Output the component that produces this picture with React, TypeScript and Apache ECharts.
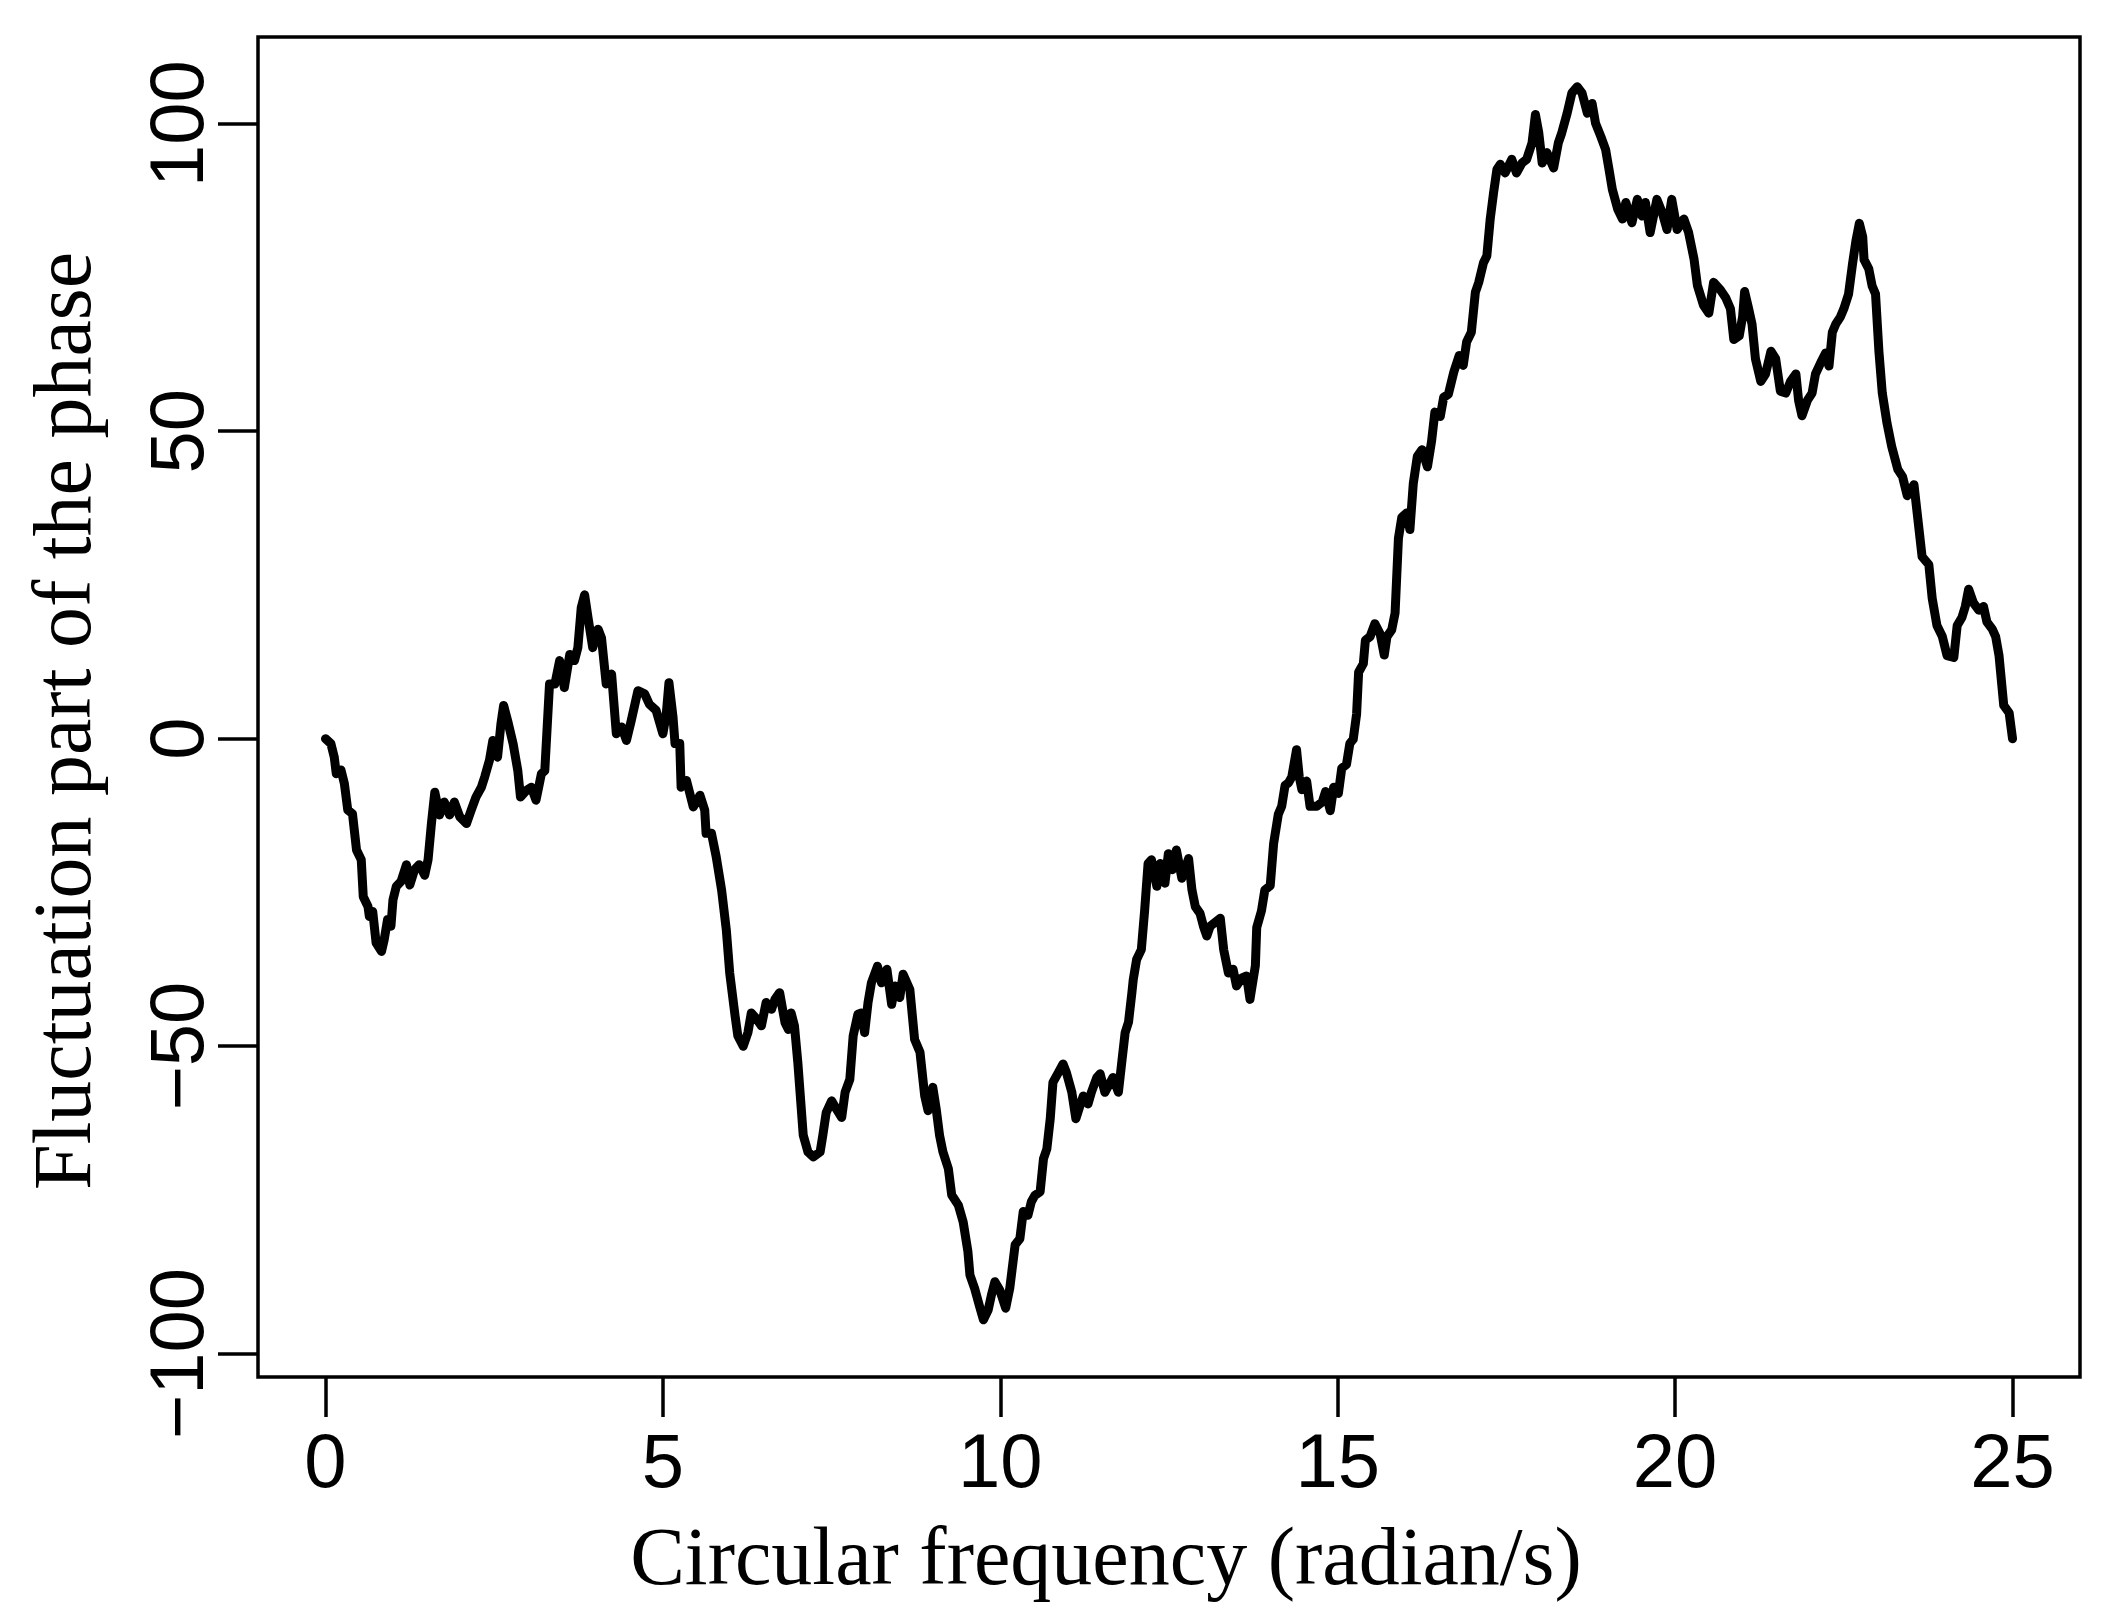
import React, { useEffect, useRef } from "react";
import * as echarts from "echarts";

// Circular frequency (radian/s)
const freq: number[] = [
  0, 0.08, 0.13, 0.16, 0.23, 0.28, 0.33, 0.4, 0.46, 0.53, 0.56, 0.63, 0.65, 0.7, 0.75, 0.83, 0.87, 0.92, 0.97, 1.0,
  1.05, 1.12, 1.2, 1.25, 1.32, 1.39, 1.47, 1.52, 1.57, 1.62, 1.69, 1.76, 1.84, 1.91, 1.99, 2.09, 2.16, 2.23, 2.31, 2.36,
  2.43, 2.48, 2.55, 2.6, 2.64, 2.7, 2.78, 2.85, 2.89, 2.98, 3.05, 3.12, 3.2,
  3.25, 3.32, 3.4, 3.47, 3.54, 3.62, 3.69, 3.74, 3.79, 3.84, 3.89, 3.96, 4.04, 4.09, 4.16, 4.24, 4.31, 4.39, 4.46, 4.53,
  4.63, 4.73, 4.8, 4.9, 5.0, 5.05, 5.09, 5.15, 5.18, 5.25, 5.27, 5.35, 5.45, 5.55, 5.62, 5.64, 5.72, 5.79, 5.87, 5.94,
  5.99, 6.07, 6.11, 6.19, 6.26, 6.31, 6.39, 6.46, 6.53, 6.61, 6.66, 6.73, 6.81, 6.86, 6.9,
  6.95, 7.0, 7.08, 7.15, 7.23, 7.33, 7.37, 7.42, 7.5, 7.57, 7.65, 7.7, 7.77, 7.82, 7.89, 7.94, 7.99, 8.04, 8.09, 8.18,
  8.24, 8.32, 8.39, 8.44, 8.51, 8.56, 8.66, 8.73, 8.81, 8.88, 8.93, 9.0, 9.05, 9.1, 9.15, 9.23, 9.28, 9.38, 9.45, 9.52,
  9.55, 9.62, 9.7, 9.75, 9.82, 9.87, 9.92, 9.99, 10.08, 10.14,
  10.22, 10.29, 10.34, 10.41, 10.46, 10.51, 10.59, 10.64, 10.69, 10.74, 10.78, 10.86, 10.93, 10.98, 11.06, 11.12, 11.18,
  11.23, 11.3, 11.35, 11.43, 11.48, 11.55, 11.63, 11.67, 11.75, 11.8, 11.85, 11.9, 11.95, 11.97, 12.02, 12.09, 12.14,
  12.19, 12.24, 12.32, 12.37, 12.44, 12.49, 12.55, 12.61, 12.69, 12.79, 12.84, 12.89, 12.96, 13.01, 13.06, 13.11, 13.26,
  13.31, 13.38, 13.45, 13.5, 13.58, 13.65, 13.7,
  13.78, 13.8, 13.87, 13.92, 14.0, 14.05, 14.12, 14.17, 14.22, 14.27, 14.32, 14.39, 14.43, 14.47, 14.54, 14.59, 14.69,
  14.77, 14.82, 14.89, 14.94, 15.01, 15.06, 15.13, 15.18, 15.23, 15.28, 15.31, 15.38, 15.41, 15.48, 15.55, 15.63, 15.69,
  15.73, 15.8, 15.85, 15.9, 15.95, 16.02, 16.07, 16.12, 16.18, 16.25, 16.33, 16.39, 16.44, 16.52, 16.57,
  16.64, 16.72, 16.8, 16.86, 16.91, 16.98, 17.04, 17.09, 17.16, 17.21, 17.26, 17.31, 17.36, 17.41, 17.48, 17.58, 17.65,
  17.73, 17.8, 17.88, 17.93, 17.98, 18.03, 18.1, 18.2, 18.27, 18.32, 18.4, 18.47, 18.55, 18.62, 18.7, 18.77, 18.82, 18.9,
  18.97, 19.02, 19.07, 19.15, 19.22, 19.27, 19.36, 19.44, 19.51, 19.56, 19.63, 19.73, 19.81, 19.88, 19.95, 20.03, 20.13,
  20.2, 20.28, 20.33,
  20.42, 20.5, 20.57, 20.67, 20.75, 20.82, 20.87, 20.95, 21.0, 21.03, 21.09, 21.14, 21.19, 21.27, 21.34, 21.42, 21.49,
  21.56, 21.64, 21.71, 21.79, 21.83, 21.88, 21.96, 22.03, 22.08, 22.16, 22.23, 22.28, 22.33, 22.38, 22.45, 22.5, 22.57,
  22.63, 22.68, 22.73, 22.78, 22.8, 22.87, 22.92, 22.97, 23.02, 23.07, 23.14, 23.21, 23.3, 23.37, 23.44, 23.54, 23.59,
  23.66, 23.76, 23.81, 23.88, 23.96, 24.03, 24.13, 24.18, 24.25, 24.3, 24.35, 24.42, 24.5, 24.57, 24.62, 24.7, 24.75,
  24.8, 24.87, 24.95, 25.0,
];

// Fluctuation part of the phase
const phase: number[] = [
  0, -0.8, -3, -5.7, -5.1, -7.3, -11.6, -12.2, -18.1, -19.7, -25.7, -27.3, -28.9, -28.1, -33.2, -34.6, -32.7, -29.4, -30.5, -26.2,
  -24.0, -23.2, -20.5, -23.8, -21.3, -20.5, -22.2, -19.7, -13.8, -8.7, -12.4, -10.3, -12.4, -10.3, -12.7, -13.8, -11.6, -9.5, -7.9, -6.2,
  -3.5, -0.3, -3.0, 2.4, 5.4, 2.9, -0.8, -5.2, -9.5, -8.4, -7.9, -10.0, -5.7,
  -5.2, 8.9, 8.9, 12.7, 8.3, 13.7, 12.7, 14.8, 21.3, 23.4, 19.7, 14.8, 17.8, 16.4, 8.9, 10.5, 0.8, 1.9, -0.3, 2.9,
  7.8, 7.3, 5.6, 4.6, 0.8, 4.0, 9.1, 3.5, -0.8, -0.8, -7.9, -6.8, -11.1, -9.2, -11.6, -15.4, -15.4, -19.2, -24.6, -31.1,
  -38.1, -45.1, -48.3, -50.0, -47.8, -44.6, -45.6, -46.7, -42.9, -44.0, -42.4, -41.3, -46.2, -47.3, -44.6,
  -46.7, -52.7, -64.5, -67.2, -68.0, -67.2, -64.5, -60.8, -58.9, -60.2, -61.6, -57.5, -55.4, -48.3, -44.8, -44.6, -47.8, -42.9, -39.7, -37.0,
  -39.7, -37.5, -43.2, -40.2, -42.1, -38.3, -40.8, -48.9, -51.0, -58.1, -60.5, -56.7, -60.2, -64.5, -67.2, -69.9, -74.2, -75.9, -78.6, -83.4,
  -87.2, -89.4, -92.6, -94.5, -92.9, -90.4, -88.3, -89.6, -92.6, -89.4,
  -82.3, -81.3, -76.9, -77.5, -75.3, -74.3, -73.7, -68.3, -66.7, -61.8, -55.9, -54.3, -52.9, -54.3, -57.5, -61.8, -59.7,
  -58.1, -59.4, -57.5, -55.1, -54.5, -57.5, -55.9, -55.1, -57.5, -52.6, -47.8, -46.1, -41.3, -39.2, -35.9, -34.3, -27.8,
  -20.3, -19.7, -24.0, -20.3, -23.5, -18.7, -21.3, -18.1, -22.7, -19.5, -24.6, -27.3, -28.4, -30.5, -32.1, -30.5, -29.2,
  -34.3, -38.1, -37.5, -40.2, -38.9, -38.6, -42.4,
  -36.9, -30.7, -28.0, -24.6, -23.9, -17.1, -12.3, -11.0, -7.6, -7.2, -6.2, -1.8, -6.2, -8.3, -6.9, -11.0, -11.0,
  -10.3, -8.6, -11.7, -7.9, -8.9, -4.8, -4.2, -0.8, -0.1, 4.0, 10.8, 12.2, 16.0, 16.6, 18.7, 17.0, 13.6,
  16.6, 17.7, 20.4, 32.6, 36.0, 36.7, 34.0, 41.5, 45.9, 47.0, 44.2, 48.3, 53.1, 52.4, 55.5,
  56.0, 59.6, 62.3, 60.7, 64.5, 66.1, 72.6, 74.2, 77.4, 78.5, 84.5, 88.8, 92.6, 93.4, 92.0, 94.2, 92.0,
  93.6, 94.2, 96.9, 101.5, 98.5, 93.6, 95.3, 92.8, 96.9, 98.5, 101.7, 105.0, 106.0, 105.0, 101.7, 103.3, 100.1, 97.9,
  95.8, 92.6, 89.3, 86.1, 84.5, 87.2, 83.9, 87.7, 85.0, 87.2, 82.3, 87.7, 85.5, 82.8, 87.7, 82.8, 84.5,
  82.3, 78.0, 73.7,
  70.5, 69.2, 74.2, 73.0, 71.7, 69.9, 64.9, 65.5, 68.6, 72.7, 69.9, 67.4, 61.8, 58.1, 59.3, 63.0, 61.8,
  56.5, 56.2, 58.1, 59.3, 55.0, 52.5, 55.0, 56.2, 59.3, 61.2, 62.7, 60.6, 66.1, 67.4, 68.6, 69.9, 72.3,
  77.3, 81.0, 83.8, 81.6, 77.9, 76.4, 73.6, 72.3, 63.0, 56.2, 51.3, 47.5, 43.8, 42.6, 39.5, 41.3, 36.4,
  29.6, 28.3, 22.8, 18.4, 16.6, 13.5, 13.2, 18.4, 19.7, 21.5, 24.3, 22.1, 20.9, 21.5, 19.0, 17.8, 16.6,
  13.5, 5.4, 4.2, 0,
];

const xTicks: number[] = [0, 5, 10, 15, 20, 25];
const yTicks: number[] = [-100, -50, 0, 50, 100];

const xTitle = "Circular frequency (radian/s)";
const yTitle = "Fluctuation part of the phase";

const fmt = (v: number) => String(v).replace("-", "\u2212");

export default function App() {
  const ref = useRef<HTMLDivElement>(null);

  useEffect(() => {
    if (!ref.current) return;
    const chart = echarts.init(ref.current, undefined, { renderer: "svg" });
    const data = freq.map((f, i) => [f, phase[i]]);
    const labelFont = "'Liberation Sans', Arial, Helvetica, sans-serif";
    const titleFont = "'Liberation Serif', 'Times New Roman', serif";

    chart.setOption({
      animation: false,
      backgroundColor: "#ffffff",
      grid: {
        left: 258,
        right: 42,
        top: 37,
        bottom: 246,
        show: true,
        borderColor: "#000",
        borderWidth: 3.5,
        backgroundColor: "transparent",
      },
      xAxis: {
        type: "value",
        min: -1,
        max: 26,
        splitLine: { show: false },
        axisLine: { show: false, onZero: false },
        axisTick: {
          show: true,
          customValues: xTicks,
          length: 40,
          inside: false,
          lineStyle: { color: "#000", width: 3.5 },
        },
        axisLabel: {
          show: true,
          customValues: xTicks,
          margin: 45,
          color: "#000",
          fontSize: 76,
          fontFamily: labelFont,
          formatter: fmt,
        },
      },
      yAxis: {
        type: "value",
        min: -103.8,
        max: 114.1,
        splitLine: { show: false },
        axisLine: { show: false, onZero: false },
        axisTick: {
          show: true,
          customValues: yTicks,
          length: 40,
          inside: false,
          lineStyle: { color: "#000", width: 3.5 },
        },
        axisLabel: {
          show: true,
          customValues: yTicks,
          rotate: 90,
          margin: 44,
          color: "#000",
          fontSize: 76,
          fontFamily: labelFont,
          formatter: fmt,
        },
      },
      graphic: [
        {
          type: "text",
          x: 1106,
          y: 1556,
          style: {
            text: xTitle,
            fill: "#000",
            font: `82px ${titleFont}`,
            align: "center",
            verticalAlign: "middle",
          },
        },
        {
          type: "text",
          x: 62,
          y: 721,
          rotation: Math.PI / 2,
          style: {
            text: yTitle,
            fill: "#000",
            font: `82px ${titleFont}`,
            align: "center",
            verticalAlign: "middle",
          },
        },
      ],
      series: [
        {
          type: "line",
          data,
          showSymbol: false,
          symbol: "none",
          smooth: false,
          clip: true,
          lineStyle: { color: "#000", width: 9, join: "round", cap: "round" },
        },
      ],
    });

    return () => {
      chart.dispose();
    };
  }, []);

  return (
    <div
      ref={ref}
      style={{ position: "absolute", left: 0, top: 0, width: 2122, height: 1623, background: "#fff" }}
    />
  );
}
